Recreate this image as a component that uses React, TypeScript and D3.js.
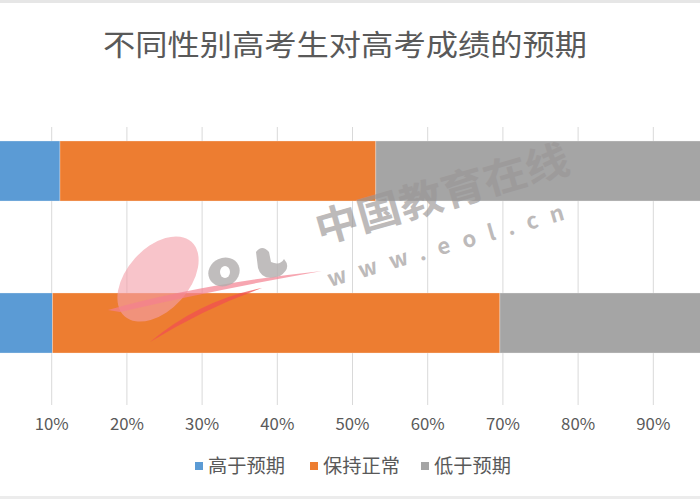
import React from "react";
import * as d3 from "d3";

const title = "不同性别高考生对高考成绩的预期";
const categories = ["男", "女"];
const seriesNames = ["高于预期", "保持正常", "低于预期"];
const higher = [11.1, 10.1];
const normal = [42.0, 59.5];
const lower = [46.9, 30.4];
const tickValues = [0, 10, 20, 30, 40, 50, 60, 70, 80, 90, 100];
const visibleTicks = [10, 20, 30, 40, 50, 60, 70, 80, 90];
const colors = ["#5b9bd5", "#ed7d31", "#a5a5a5"];

export default function App() {
  const W = 700, H = 500;
  const x = d3.scaleLinear().domain([0, 100]).range([-23.5, 728.5]);
  const y = d3.scaleBand<string>().domain(categories).range([95, 399]).paddingInner(0.605).paddingOuter(0.3025);
  const rows = categories.map((c, i) => ({ cat: c, 高于预期: higher[i], 保持正常: normal[i], 低于预期: lower[i] }));
  const stacked = d3.stack<any>().keys(seriesNames)(rows);
  const font = "'Noto Sans CJK SC', 'Noto Sans', sans-serif";
  const legendX = [195, 310, 421];

  return (
    <svg width={W} height={H} style={{ position: "absolute", left: 0, top: 0, background: "#fff" }} fontFamily={font}>
      <rect x={0} y={0} width={W} height={H} fill="#fff" />
      <line x1={0} x2={W} y1={1.5} y2={1.5} stroke="#e6e6e6" strokeWidth={3} />
      <line x1={0} x2={W} y1={497.5} y2={497.5} stroke="#ececec" strokeWidth={3} />
      <text x={345} y={56} textAnchor="middle" fontSize={29} fill="#595959" textLength={484} lengthAdjust="spacingAndGlyphs">{title}</text>
      {tickValues.map((t) => (
        <line key={"g" + t} x1={x(t)} x2={x(t)} y1={127} y2={405} stroke="#d9d9d9" strokeWidth={1} />
      ))}
      {stacked.map((s, si) => (
        <g key={s.key} fill={colors[si]}>
          {s.map((d, i) => (
            <rect key={i} x={x(d[0])} y={y(categories[i])} width={x(d[1]) - x(d[0])} height={y.bandwidth()} stroke="#fff" strokeOpacity={0.35} strokeWidth={0.8} />
          ))}
        </g>
      ))}
      {visibleTicks.map((t) => (
        <text key={"t" + t} x={x(t)} y={430} textAnchor="middle" fontSize={16} fill="#595959" textLength={34} lengthAdjust="spacingAndGlyphs">{t + "%"}</text>
      ))}
      {seriesNames.map((n, i) => (
        <g key={n} transform={`translate(${legendX[i]},466)`}>
          <rect x={0} y={-4} width={8} height={8} fill={colors[i]} />
          <text x={13} y={7} fontSize={19} fill="#595959" textLength={77} lengthAdjust="spacingAndGlyphs">{n}</text>
        </g>
      ))}
      {/* watermark */}
      <g>
        <ellipse cx={158} cy={279} rx={50} ry={31} transform="rotate(-48 158 279)" fill="#f4a0aa" opacity={0.62} />
        <path d="M108,310 Q200,284 322,271 Q215,290 120,312 Z" fill="#f48090" opacity={0.7} />
        <path d="M150,342 Q200,300 262,288 Q205,308 150,342 Z" fill="#f05050" opacity={0.75} />
        <ellipse cx={224} cy={272} rx={16} ry={14} transform="rotate(-25 224 272)" fill="#b0acac" opacity={0.8} />
        <ellipse cx={225} cy={272} rx={5} ry={6} fill="#fff" />
        <path d="M256,252 Q262,244 269,252 L271,262 Q280,266 284,259 Q292,268 280,276 Q262,282 258,268 Z" fill="#b0acac" opacity={0.8} />
        <text x={320} y={244} fontSize={40} fontWeight={700} fill="#9a9696" opacity={0.65} transform="rotate(-16 320 244)" textLength={262} lengthAdjust="spacingAndGlyphs">中国教育在线</text>
        <text x={330} y={287} fontSize={22} fontWeight={700} fill="#9a9696" opacity={0.65} transform="rotate(-16 330 287)" letterSpacing={13}>www.eol.cn</text>
      </g>
    </svg>
  );
}
